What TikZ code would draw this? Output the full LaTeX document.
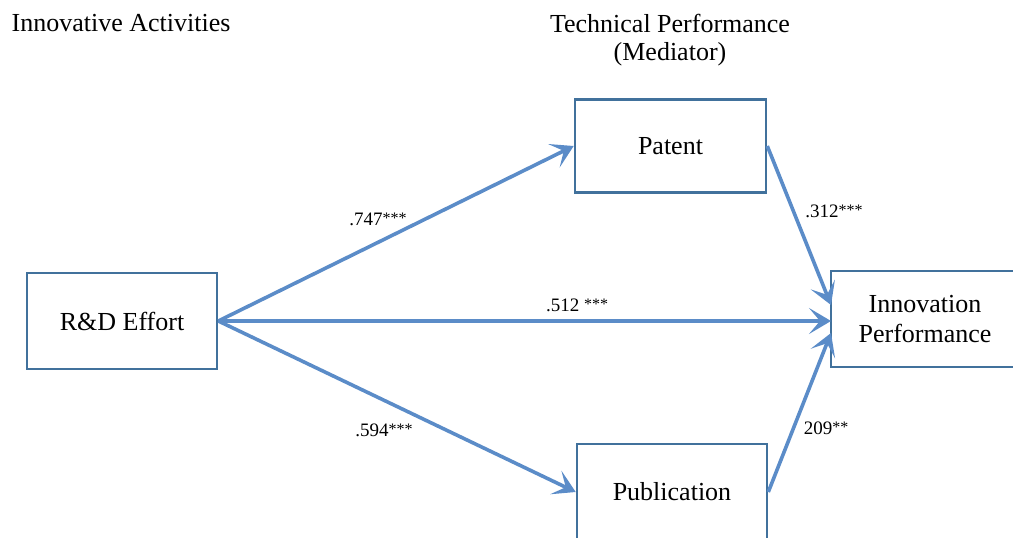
\documentclass[tikz,border=0pt]{standalone}
\usepackage{fontspec}
\setmainfont{Liberation Serif}
\usetikzlibrary{arrows.meta}
\definecolor{boxblue}{HTML}{41719C}
\definecolor{arrblue}{HTML}{5B8CC8}
\tikzset{
  varbox/.style={draw=boxblue, line width=2.6pt, fill=white, inner sep=0pt,
    font=\fontsize{26}{30}\selectfont, align=center},
  link/.style={draw=arrblue, line width=3.6pt,
    -{Stealth[length=22pt, width=26pt, inset=11pt]}},
  coef/.style={font=\fontsize{19}{22}\selectfont, inner sep=0pt},
  heading/.style={font=\fontsize{26}{31}\selectfont, inner sep=0pt, align=center}
}
\newcommand{\stars}[1]{\raisebox{2pt}{\fontsize{16}{16}\selectfont #1}}
\begin{document}
\begin{tikzpicture}[x=1pt, y=-1pt]
\useasboundingbox (0,0) rectangle (1013,538);
\node[heading, anchor=base] (ia) at (121,31) {Innovative Activities};
\node[heading, anchor=base] (tp) at (670,32) {Technical Performance};
\node[heading, anchor=base] (med) at (670,60) {(Mediator)};

\node[varbox, minimum width=190pt, minimum height=96pt] (rd) at (122,321) {R\&D Effort};
\node[varbox, minimum width=191pt, minimum height=93pt] (pat) at (670.5,146) {Patent};
\node[varbox, minimum width=190pt, minimum height=96pt] (pub) at (672,492) {Publication};
\node[varbox, minimum width=188pt, minimum height=96pt] (ip) at (925,319) {Innovation\\Performance};

\coordinate (ipa) at (831,305);
\coordinate (ipb) at (831,321);
\coordinate (ipc) at (831,333);

\draw[link] (rd.east) -- (pat.west);
\draw[link] (rd.east) -- (pub.west);
\draw[link] (rd.east) -- (ipb);
\draw[link] (pat.east) -- (ipa);
\draw[link] (pub.east) -- (ipc);

\node[coef] (c1) at (378,219) {.747\stars{***}};
\node[coef] (c2) at (577,305) {.512 \stars{***}};
\node[coef] (c3) at (384,430) {.594\stars{***}};
\node[coef] (c4) at (834,211) {.312\stars{***}};
\node[coef] (c5) at (826,428) {209\stars{**}};
\end{tikzpicture}
\end{document}
